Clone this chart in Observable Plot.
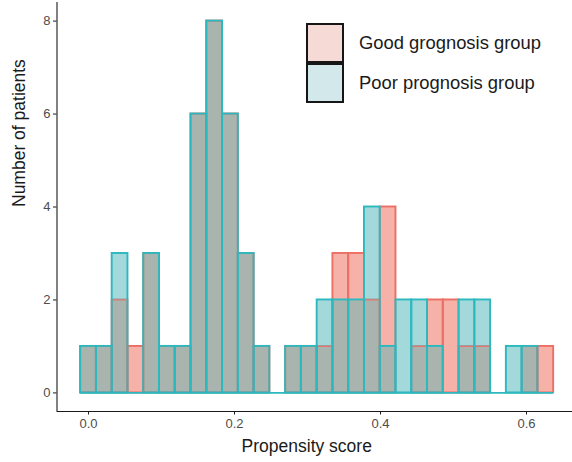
<!DOCTYPE html>
<html><head><meta charset="utf-8">
<script src="https://cdn.jsdelivr.net/npm/d3@7"></script>
<script src="https://cdn.jsdelivr.net/npm/@observablehq/plot@0.6"></script>
<style>
body{margin:0;background:#fff;font-family:"Liberation Sans",Arial,sans-serif;}
#wrap{position:relative;width:572px;height:462px;overflow:hidden;}
.key{position:absolute;left:306px;width:38px;height:40px;box-sizing:border-box;border:2.5px solid #161616;}
.lab{position:absolute;left:359px;font-size:18.4px;color:#1a1a1a;line-height:20px;white-space:nowrap;}
</style></head><body><div id="wrap"></div>
<script>
// Histogram bins (ggplot default 30 bins), bin width in propensity-score units
const binWidth = 0.0216;
const binCenters = [0.000, 0.0216, 0.0432, 0.0648, 0.0864, 0.108, 0.1296, 0.1512, 0.1728, 0.1944,
  0.216, 0.2376, 0.2592, 0.2808, 0.3024, 0.324, 0.3456, 0.3672, 0.3888, 0.4104,
  0.432, 0.4536, 0.4752, 0.4968, 0.5184, 0.54, 0.5616, 0.5832, 0.6048, 0.6264];
const goodCounts = [1,1,2,1,3,1,1,6,8,6,3,1,0,1,1,1,3,3,2,4,0,1,2,2,1,1,0,0,1,1];
const poorCounts = [1,1,3,0,3,1,1,6,8,6,3,1,0,1,1,2,2,2,4,1,2,2,1,0,2,2,0,1,1,0];
const seriesNames = ["Good grognosis group", "Poor prognosis group"];
const xTicks = [0, 0.2, 0.4, 0.6];
const yTicks = [0, 2, 4, 6, 8];
const xTitle = "Propensity score";
const yTitle = "Number of patients";

const PINK_FILL = "#f6b1a8", CYAN_FILL_BASE = "#67c0c5", GREY_FILL = "#a9b4ae";
const PINK_LINE = "#ec6f66", CYAN_LINE = "#2bb9bf";

const rows = binCenters.map((c, i) => ({
  x1: c - binWidth / 2, x2: c + binWidth / 2,
  good: goodCounts[i], poor: poorCounts[i]
}));
const xMin = -0.0432, xMax = 0.663, yMin = -0.4, yMax = 8.4;
const baseline = [{x1: rows[0].x1, x2: rows[rows.length - 1].x2, y: 0}];

const chart = Plot.plot({
  width: 572, height: 462,
  marginLeft: 56.5, marginRight: 0, marginTop: 2, marginBottom: 51,
  style: {fontFamily: "'Liberation Sans', Arial, sans-serif", background: "#fff"},
  x: {domain: [xMin, xMax], axis: null},
  y: {domain: [yMin, yMax], axis: null},
  marks: [
    Plot.rect(rows, {x1: "x1", x2: "x2", y1: 0, y2: d => Math.min(d.good, d.poor), fill: GREY_FILL}),
    Plot.rect(rows.filter(d => d.good > d.poor), {x1: "x1", x2: "x2", y1: "poor", y2: "good", fill: PINK_FILL}),
    Plot.rect(rows.filter(d => d.good > 0), {x1: "x1", x2: "x2", y1: 0, y2: "good", fill: "none", stroke: PINK_LINE, strokeWidth: 1.9}),
    Plot.rect(rows.filter(d => d.poor > d.good), {x1: "x1", x2: "x2", y1: "good", y2: "poor", fill: CYAN_FILL_BASE, fillOpacity: 0.6}),
    Plot.rect(rows.filter(d => d.poor > 0), {x1: "x1", x2: "x2", y1: 0, y2: "poor", fill: "none", stroke: CYAN_LINE, strokeWidth: 1.9}),
    Plot.ruleY(baseline, {x1: "x1", x2: "x2", y: "y", stroke: CYAN_LINE, strokeWidth: 1.9}),
    Plot.ruleX([xMin], {stroke: "#1a1a1a", strokeWidth: 1.1}),
    Plot.ruleY([yMin], {stroke: "#1a1a1a", strokeWidth: 1.1}),
    Plot.axisX({ticks: xTicks, tickFormat: d3.format(".1f"), tickSize: 3.5, tickPadding: 4, fontSize: 13, stroke: "#1a1a1a", fill: "#4d4d4d", label: null}),
    Plot.axisY({ticks: yTicks, tickFormat: d3.format("d"), tickSize: 3.5, tickPadding: 3, fontSize: 13, stroke: "#1a1a1a", fill: "#4d4d4d", label: null}),
    Plot.text([xTitle], {text: d => d, frameAnchor: "bottom", dy: 40, dx: -8, fontSize: 17.5, fill: "#1a1a1a"}),
    Plot.text([yTitle], {text: d => d, frameAnchor: "left", rotate: -90, dx: -38, fontSize: 17.5, fill: "#1a1a1a"})
  ]
});
const wrap = document.getElementById("wrap");
wrap.appendChild(chart);

const keyFills = ["#f6dad5", "#d2e8ea"];
seriesNames.forEach((name, i) => {
  const k = document.createElement("div");
  k.className = "key";
  k.style.top = (23 + i * 39.5) + "px";
  k.style.background = keyFills[i];
  wrap.appendChild(k);
  const t = document.createElement("div");
  t.className = "lab";
  t.style.top = (33 + i * 40) + "px";
  t.textContent = name;
  wrap.appendChild(t);
});
</script>
</body></html>
